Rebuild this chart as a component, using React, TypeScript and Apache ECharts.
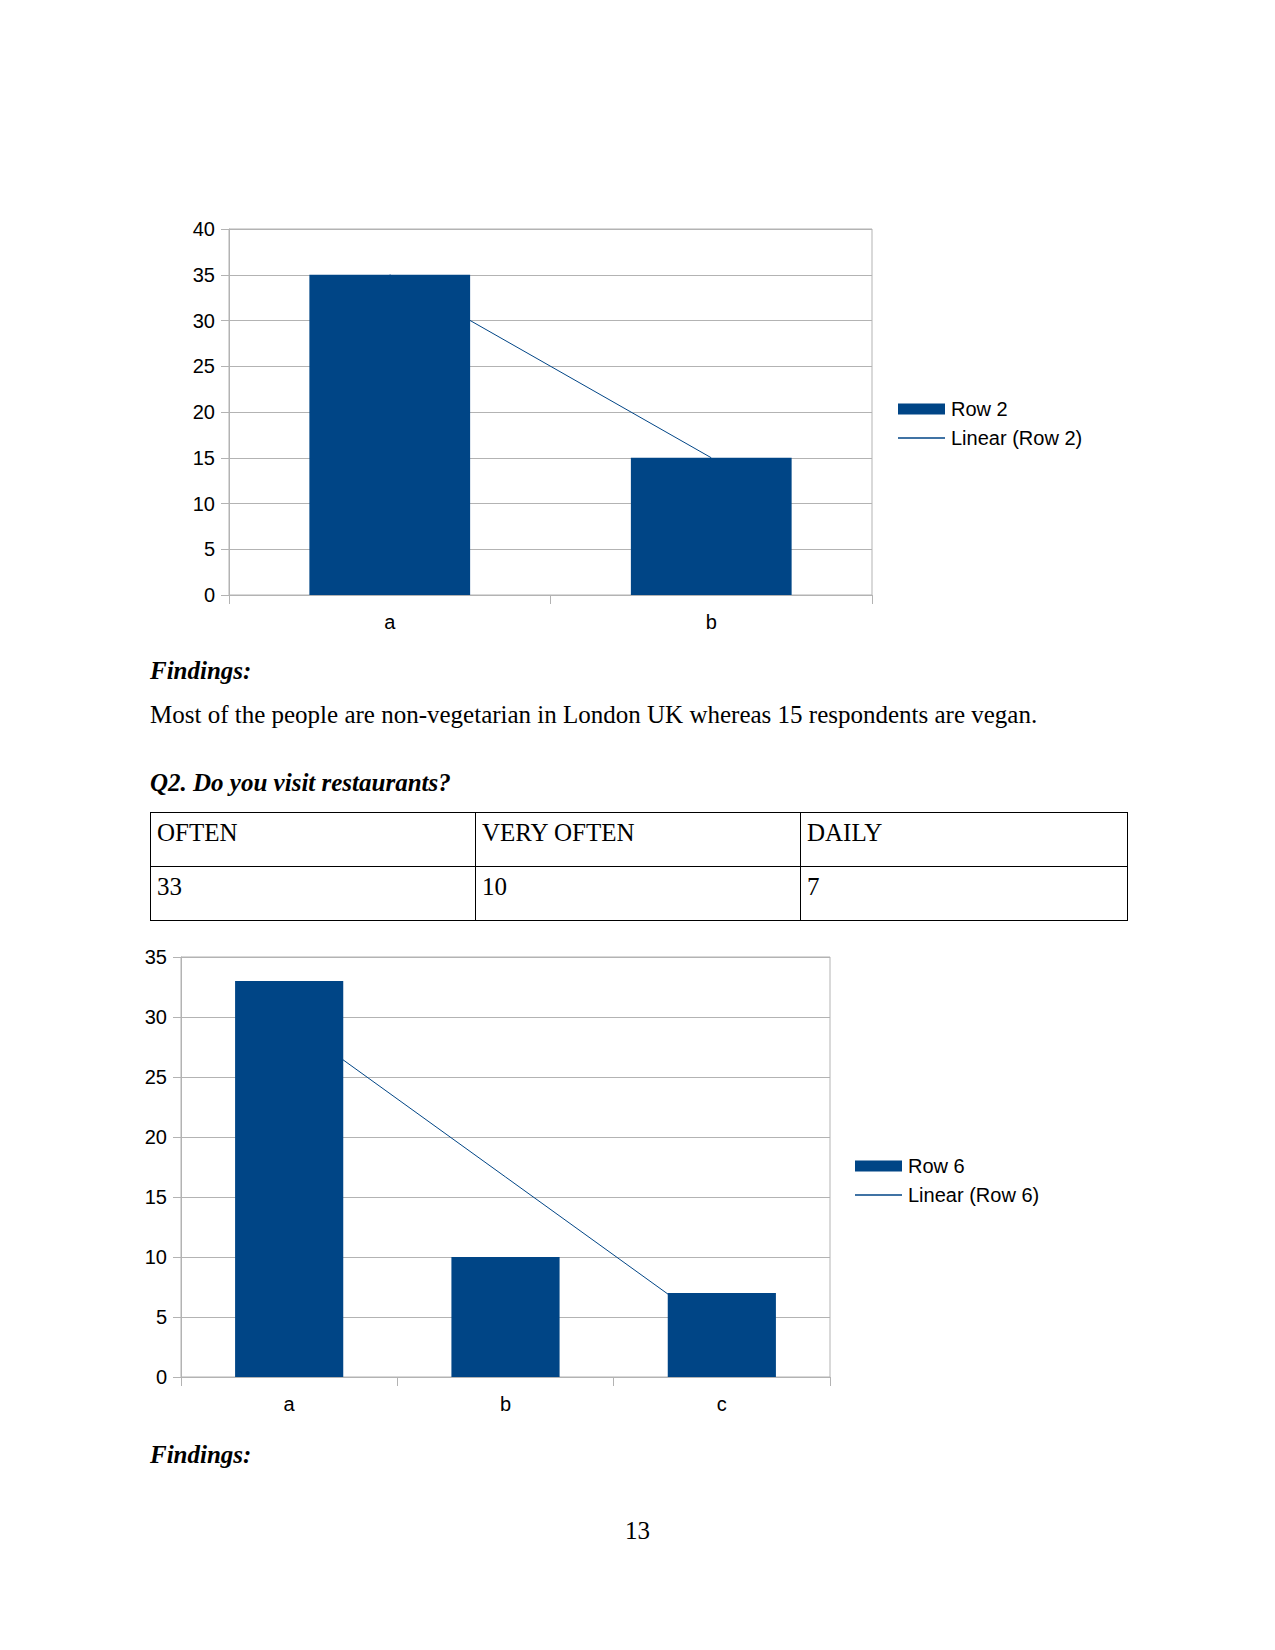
import React, { useEffect, useRef } from "react";
import * as echarts from "echarts";

const categories1 = ["a", "b"];
const values1 = [35, 15];
const trend1 = [35, 15];
const seriesName1 = "Row 2";
const trendName1 = "Linear (Row 2)";

const categories2 = ["a", "b", "c"];
const values2 = [33, 10, 7];
const trend2 = [29.67, 16.67, 3.67];
const seriesName2 = "Row 6";
const trendName2 = "Linear (Row 6)";

const tableHeaders = ["OFTEN", "VERY OFTEN", "DAILY"];
const tableValues = ["33", "10", "7"];

const BAR = "#004586";
const GRID = "#b3b3b3";
const SANS = "'Liberation Sans', Arial, sans-serif";
const SERIF = "'Liberation Serif', 'Times New Roman', serif";

function makeOption(cats: string[], vals: number[], trend: number[], sName: string, tName: string, max: number, grid: any, legendPos: any) {
  return {
    animation: false,
    grid: { ...grid, show: true, borderColor: GRID, borderWidth: 1, backgroundColor: "transparent" },
    legend: {
      orient: "vertical",
      ...legendPos,
      itemWidth: 47,
      itemHeight: 11,
      itemGap: 9,
      textStyle: { fontFamily: SANS, fontSize: 20, color: "#000", lineHeight: 20, padding: [0, 0, 0, 1] },
      data: [
        { name: sName, icon: "rect" },
        { name: tName, icon: "path://M0,0L47,0L47,1.3L0,1.3Z" },
      ],
    },
    xAxis: {
      type: "category",
      data: cats,
      boundaryGap: true,
      axisLine: { lineStyle: { color: GRID, width: 1 } },
      axisTick: { show: true, length: 9, lineStyle: { color: GRID } },
      axisLabel: { fontFamily: SANS, fontSize: 20, color: "#000", margin: 17 },
      splitLine: { show: false },
    },
    yAxis: {
      type: "value",
      min: 0,
      max,
      interval: 5,
      axisLine: { show: true, lineStyle: { color: GRID, width: 1 } },
      axisTick: { show: true, length: 8, lineStyle: { color: GRID } },
      axisLabel: { fontFamily: SANS, fontSize: 20, color: "#000", margin: 14 },
      splitLine: { show: true, lineStyle: { color: GRID, width: 1 } },
    },
    series: [
      {
        name: tName,
        type: "line",
        data: trend,
        symbol: "none",
        z: 1,
        lineStyle: { color: BAR, width: 1 },
        itemStyle: { color: BAR },
      },
      {
        name: sName,
        type: "bar",
        data: vals,
        barCategoryGap: "50%",
        z: 3,
        itemStyle: { color: BAR },
      },
    ],
  };
}

function Chart({ style, option }: { style: React.CSSProperties; option: any }) {
  const ref = useRef<HTMLDivElement>(null);
  useEffect(() => {
    if (!ref.current) return;
    const chart = echarts.init(ref.current, undefined, { renderer: "svg" });
    chart.setOption(option);
    return () => chart.dispose();
  }, []);
  return <div ref={ref} style={{ position: "absolute", ...style }} />;
}

const textBase: React.CSSProperties = {
  position: "absolute",
  fontFamily: SERIF,
  fontSize: 25,
  lineHeight: "30px",
  color: "#000",
  whiteSpace: "nowrap",
  margin: 0,
};

export default function App() {
  const opt1 = makeOption(categories1, values1, trend1, seriesName1, trendName1, 40,
    { left: 89, top: 28, width: 643, height: 366 },
    { left: 753, top: 193 });
  const opt2 = makeOption(categories2, values2, trend2, seriesName2, trendName2, 35,
    { left: 61, top: 27, width: 649, height: 420 },
    { left: 730, top: 221 });
  const cell: React.CSSProperties = {
    border: "1px solid #000",
    padding: "5px 6px 0 6px",
    height: 54,
    boxSizing: "border-box",
    verticalAlign: "top",
    fontFamily: SERIF,
    fontSize: 25,
    lineHeight: "30px",
    textAlign: "left",
    fontWeight: "normal",
  };
  return (
    <div style={{ position: "absolute", left: 0, top: 0, width: 1275, height: 1650, background: "#fff" }}>
      <Chart style={{ left: 140, top: 201, width: 960, height: 440 }} option={opt1} />
      <div style={{ ...textBase, left: 150, top: 656, fontWeight: "bold", fontStyle: "italic" }}>Findings:</div>
      <div style={{ ...textBase, left: 150, top: 700 }}>
        Most of the people are non-vegetarian in London UK whereas 15 respondents are vegan.
      </div>
      <div style={{ ...textBase, left: 150, top: 768, fontWeight: "bold", fontStyle: "italic" }}>
        Q2. Do you visit restaurants?
      </div>
      <table
        style={{
          position: "absolute",
          left: 150,
          top: 812,
          width: 977,
          borderCollapse: "collapse",
          tableLayout: "fixed",
        }}
      >
        <colgroup>
          <col style={{ width: 325 }} />
          <col style={{ width: 325 }} />
          <col style={{ width: 327 }} />
        </colgroup>
        <tbody>
          <tr>
            {tableHeaders.map((h, i) => (
              <td key={i} style={cell}>{h}</td>
            ))}
          </tr>
          <tr>
            {tableValues.map((v, i) => (
              <td key={i} style={cell}>{v}</td>
            ))}
          </tr>
        </tbody>
      </table>
      <Chart style={{ left: 120, top: 930, width: 960, height: 490 }} option={opt2} />
      <div style={{ ...textBase, left: 150, top: 1440, fontWeight: "bold", fontStyle: "italic" }}>Findings:</div>
      <div style={{ ...textBase, left: 0, width: 1275, textAlign: "center", top: 1516 }}>13</div>
    </div>
  );
}
